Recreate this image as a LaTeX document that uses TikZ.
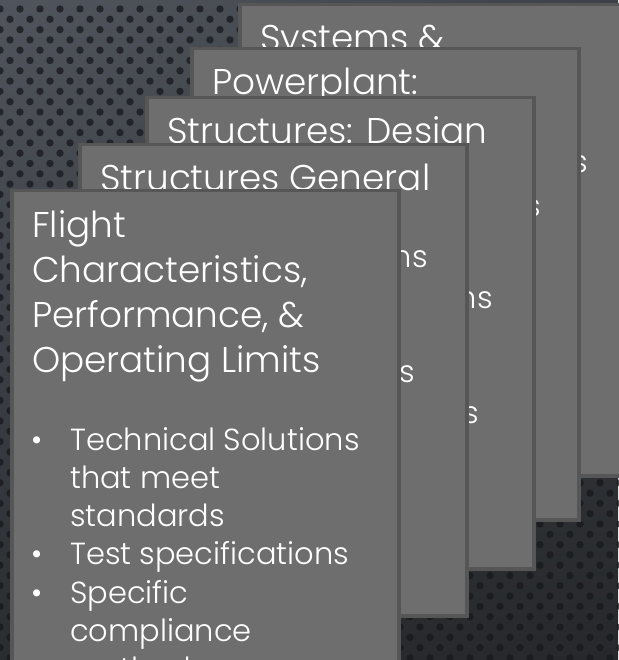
\documentclass[tikz,border=0pt]{standalone}
\usepackage{fontspec}
\IfFontExistsTF{Poppins Light}{\setmainfont{Poppins Light}}{\setmainfont{Poppins}}
\usetikzlibrary{shadings}

\definecolor{cardfill}{RGB}{110,110,110}
\definecolor{cardline}{RGB}{86,86,86}
\definecolor{bgA}{RGB}{80,85,93}
\definecolor{bgB}{RGB}{62,66,72}
\definecolor{bgC}{RGB}{42,44,47}
\definecolor{bgD}{RGB}{38,40,43}
\definecolor{hole}{RGB}{22,24,28}

\begin{document}
\begin{tikzpicture}[x=1pt,y=-1pt]
    \tikzstyle{card} = [draw=cardline, fill=cardfill, line width=3.5pt, anchor=north west, minimum width=387pt, minimum height=471pt, inner sep=0pt]
    \tikzstyle{head} = [text=white, anchor=base west, inner sep=0pt, font=\fontsize{35.8}{43}\selectfont]
    \tikzstyle{item} = [text=white, anchor=base west, inner sep=0pt, font=\fontsize{30.5}{37}\selectfont]
    \tikzstyle{tail} = [item, anchor=base east]

    % perforated background
    \useasboundingbox (0,0) rectangle (618,660);
    \shade[upper left=bgA, upper right=bgB, lower left=bgC, lower right=bgD] (0,0) rectangle (618,660);
    \foreach \j in {0,...,64}
        \foreach \i in {0,...,31}
            \fill[hole, opacity=0.75] ({20*\i+10*mod(\j,2)}, {9+10.3*\j}) circle (3.7pt);

    % cards, back to front
    \node (c5) [card] at (238,3) {};
    \node (h5) [head] at (260,51) {Systems \&};
    \node (s5) [tail] at (588,173) {Technical Solutions};

    \node (c4) [card] at (190,47) {};
    \node (h4) [head] at (212,95) {Powerplant:};
    \node (n4) [head, anchor=base east] at (535,140) {n};
    \node (s4) [tail] at (541,216) {Technical Solutions};

    \node (c3) [card] at (145,96) {};
    \node (h3) [head] at (167,144) {Structures: Design};
    \node (s3a) [tail] at (493,308) {Technical Solutions};
    \node (s3b) [tail] at (479,423) {Test specifications};

    \node (c2) [card] at (78,143) {};
    \node (h2) [head] at (100,190) {Structures General};
    \node (s2a) [tail] at (428,267) {Technical Solutions};
    \node (s2b) [tail] at (415,382) {Test specifications};

    \node (c1) [card] at (10,189) {};
    \foreach \txt [count=\k] in {Flight, {Characteristics,}, {Performance, \&}, Operating Limits}
        \node (f\k) [head] at (32, {237+45*(\k-1)}) {\txt};
    \foreach \txt/\mark [count=\k] in {Technical Solutions/1, that meet/0, standards/0, Test specifications/1, Specific/1, compliance/0, methods/0}
    {
        \node (b\k) [item] at (70, {450+38.3*(\k-1)}) {\txt};
        \ifnum\mark=1 \node (d\k) [item, anchor=base] at (37, {450+38.3*(\k-1)}) {•}; \fi
    }
\end{tikzpicture}
\end{document}
